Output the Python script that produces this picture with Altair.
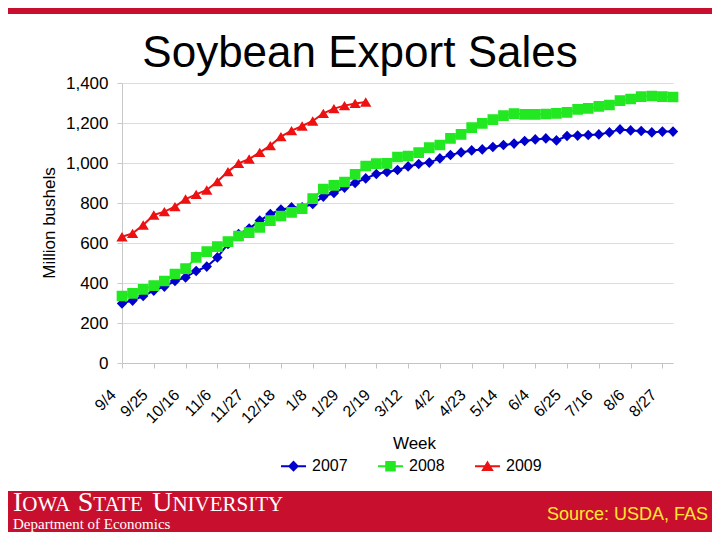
import altair as alt
import pandas as pd

# ---------------- data ----------------
weeks = ["9/4", "9/11", "9/18", "9/25", "10/2", "10/9", "10/16", "10/23", "10/30",
         "11/6", "11/13", "11/20", "11/27", "12/4", "12/11", "12/18", "12/25", "1/1",
         "1/8", "1/15", "1/22", "1/29", "2/5", "2/12", "2/19", "2/26", "3/5", "3/12",
         "3/19", "3/26", "4/2", "4/9", "4/16", "4/23", "4/30", "5/7", "5/14", "5/21",
         "5/28", "6/4", "6/11", "6/18", "6/25", "7/2", "7/9", "7/16", "7/23", "7/30",
         "8/6", "8/13", "8/20", "8/27", "9/3"]
tick_weeks = ["9/4", "9/25", "10/16", "11/6", "11/27", "12/18", "1/8", "1/29", "2/19",
              "3/12", "4/2", "4/23", "5/14", "6/4", "6/25", "7/16", "8/6", "8/27"]
y_ticks = [0, 200, 400, 600, 800, 1000, 1200, 1400]
years = ["2007", "2008", "2009"]

sales_2007 = [298, 312, 335, 362, 382, 410, 428, 460, 482, 528,
              595, 645, 672, 712, 745, 767, 778, 778, 795, 832,
              850, 877, 900, 923, 945, 955, 965, 983, 995, 1002,
              1023, 1040, 1053, 1063, 1068, 1080, 1090, 1097, 1110, 1118,
              1123, 1113, 1135, 1137, 1140, 1143, 1153, 1168, 1163, 1160,
              1153, 1157, 1157]
sales_2008 = [335, 348, 368, 387, 410, 445, 472, 528, 557, 582,
              607, 635, 652, 678, 712, 735, 753, 772, 822, 870,
              888, 905, 943, 985, 997, 998, 1030, 1035, 1052, 1077,
              1090, 1123, 1143, 1177, 1198, 1217, 1237, 1247, 1243, 1243,
              1245, 1248, 1253, 1268, 1273, 1283, 1290, 1312, 1320, 1332,
              1335, 1332, 1330]
sales_2009 = [631, 648, 690, 740, 757, 782, 820, 843, 865, 907,
              957, 998, 1020, 1053, 1087, 1132, 1162, 1185, 1210, 1248,
              1272, 1287, 1298, 1305]

title_text = "Soybean Export Sales"
source_text = "Source: USDA, FAS"
dept_text = "Department of Economics"
isu_parts = ["I", "OWA", "S", "TATE", "U", "NIVERSITY"]

# ---------------- styling ----------------
colors = ["#0000cc", "#22e822", "#ee1111"]
DIAMOND = "M-1,0H1M0,-0.34L0.33,0L0,0.34L-0.33,0Z"
SQUARE = "M-1,0H1M-0.34,-0.34H0.34V0.34H-0.34Z"
TRIANGLE = "M-1,0H1M0,-0.3L0.36,0.3L-0.36,0.3Z"
shapes = [DIAMOND, SQUARE, TRIANGLE]
CARDINAL = "#c8102e"
SANS = "Liberation Sans"
SERIF = "Liberation Serif"

rows = []
for yr, vals in zip(years, [sales_2007, sales_2008, sales_2009]):
    for w, v in zip(weeks, vals):
        rows.append({"week": w, "year": yr, "sales": v})
df = pd.DataFrame(rows)

x_enc = alt.X(
    "week:O",
    scale=alt.Scale(type="point", domain=weeks, padding=0),
    axis=alt.Axis(
        values=tick_weeks, title="Week", labelAngle=315, labelAlign="right",
        labelBaseline="middle", labelPadding=24, labelOffset=-9, labelFontSize=16,
        labelColor="black", labelOverlap=False, tickSize=5, tickColor="#c4c4c4",
        domainColor="#c4c4c4", grid=False, titleFontSize=17, titleFontWeight="normal",
        titleColor="black", titleX=292, titleY=85, titleAlign="center",
        titleBaseline="alphabetic",
    ),
)
y_enc = alt.Y(
    "sales:Q",
    scale=alt.Scale(domain=[0, 1400], nice=False, zero=True),
    axis=alt.Axis(
        values=y_ticks, format=",.0f", title="Million bushels", labelFontSize=17,
        labelColor="black", labelPadding=9, tickSize=5, tickColor="#c8c8c8",
        domainColor="#c8c8c8", gridColor="#dcdcdc", titleFontSize=17,
        titleFontWeight="normal", titleColor="black", titleX=-68, titleY=139.5,
        titleAlign="center", titleBaseline="alphabetic", titleAngle=270,
    ),
)

legend = alt.Legend(
    title=None, orient="none", direction="horizontal", legendX=158, legendY=369.5,
    padding=0, symbolSize=625, symbolStrokeWidth=2, symbolOpacity=1,
    labelFontSize=16, labelFont=SANS, labelColor="black",
    labelOffset=5, columnPadding=26,
)
series_scale = alt.Scale(domain=years, range=colors)
shape_scale = alt.Scale(domain=years, range=shapes)

base = alt.Chart(df)
line_layers = [
    base.transform_filter(alt.datum.year == yr)
    .mark_line(color=c, strokeWidth=2)
    .encode(x=x_enc, y=y_enc)
    for yr, c in zip(years, colors)
]
points = base.mark_point(filled=True, size=990, opacity=1).encode(
    x=x_enc, y=y_enc,
    fill=alt.Fill("year:N", scale=series_scale, legend=legend),
    stroke=alt.Stroke("year:N", scale=series_scale, legend=legend),
    shape=alt.Shape("year:N", scale=shape_scale, legend=legend),
    strokeWidth=alt.value(0),
)

one = pd.DataFrame({"k": [0]})


def deco_text(text, x, y, size, font, color, align="left"):
    return alt.Chart(one).mark_text(
        text=text, align=align, baseline="alphabetic", fontSize=size, font=font, color=color
    ).encode(x=alt.value(x), y=alt.value(y))


def deco_rect(x1, x2, y1, y2, color):
    return alt.Chart(one).mark_rect(color=color).encode(
        x=alt.value(x1), x2=alt.value(x2), y=alt.value(y1), y2=alt.value(y2)
    )


top_bar = deco_rect(-114, 590, -75, -69, CARDINAL)
bottom_bar = deco_rect(-114, 590, 408, 449, CARDINAL)
title = deco_text(title_text, 238, -16, 44, SANS, "black", align="center")
source = deco_text(source_text, 586, 437, 18, SANS, "#ffe82e", align="right")
dept = deco_text(dept_text, -109, 446, 15, SERIF, "white")

# small-caps style wordmark
big, small = 28, 21
isu_x = [-109, -99.7, -44.3, -28.7, 30.2, 50.4]
isu_layers = []
for i, (part, xx) in enumerate(zip(isu_parts, isu_x)):
    isu_layers.append(deco_text(part, xx, 428, big if i % 2 == 0 else small, SERIF, "white"))

chart = alt.layer(
    top_bar, bottom_bar, *line_layers, points, title, source, dept, *isu_layers
).properties(
    width=551, height=280,
    padding={"left": 114, "top": 75, "right": 39, "bottom": 169},
    autosize=alt.AutoSizeParams(type="none"),
).configure(font=SANS).configure_view(stroke=None)

chart.save("out.html", embed_options={"renderer": "svg", "actions": False})
